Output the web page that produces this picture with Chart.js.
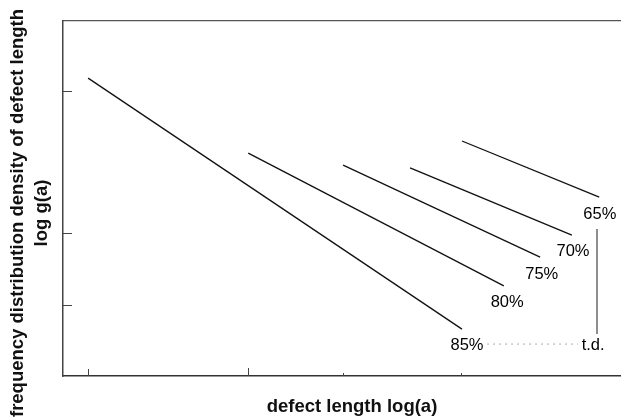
<!DOCTYPE html>
<html><head><meta charset="utf-8">
<script src="https://cdn.jsdelivr.net/npm/chart.js@4/dist/chart.umd.min.js"></script>
<style>html,body{margin:0;padding:0;background:#fff}#wrap{width:621px;height:420px}</style>
</head><body><div id="wrap"><canvas id="c" width="621" height="420"></canvas></div>
<script>
// Data (arbitrary log units)
const seriesNames = ['85%', '80%', '75%', '70%', '65%'];
const startX = [4.5, 33.2, 50.2, 62.2, 71.5];
const startY = [83.9, 62.8, 59.4, 58.6, 66.2];
const endX   = [71.5, 79.0, 85.5, 91.2, 96.1];
const endY   = [13.2, 25.4, 33.5, 39.7, 50.4];
const labelX = [72.4, 79.6, 85.8, 91.4, 96.2];
const labelY = [8.7, 20.6, 28.5, 35.2, 45.6];
const tdText = 't.d.';
const tdLabelX = [95.0];
const tdLabelY = [8.7];
const tdLineX = [95.7, 95.7];
const tdLineY = [41.4, 11.8];
const tdDotX = [76.0, 92.3];
const tdDotY = [9.0, 9.0];
const xTicks = [4.4, 33.1, 50.1, 71.3];
const xTickLen = [7, 8, 3, 3];
const yTicks = [80.3, 40.3, 20.0];
const yTitleLines = ['frequency distribution density of defect length', 'log g(a)'];
const xTitle = 'defect length log(a)';

const FONT = "'Liberation Sans', Arial, Helvetica, sans-serif";

const datasets = seriesNames.map((n, i) => ({
  label: n,
  data: [{x: startX[i], y: startY[i]}, {x: endX[i], y: endY[i]}],
  borderColor: '#111', borderWidth: 1.3, pointRadius: 0, showLine: true, fill: false
}));
datasets.push({
  label: 'td-vertical',
  data: tdLineX.map((x, i) => ({x, y: tdLineY[i]})),
  borderColor: '#444', borderWidth: 1.2, pointRadius: 0, showLine: true, fill: false
});
datasets.push({
  label: 'td-dotted',
  data: tdDotX.map((x, i) => ({x, y: tdDotY[i]})),
  borderColor: '#aaa', borderWidth: 1, borderDash: [2, 4], pointRadius: 0, showLine: true, fill: false
});

const annot = {
  id: 'annot',
  afterDatasetsDraw(chart) {
    const {ctx, scales: {x, y}} = chart;
    ctx.save();
    // inward tick marks
    ctx.strokeStyle = '#444';
    ctx.lineWidth = 1;
    yTicks.forEach(v => {
      const py = Math.round(y.getPixelForValue(v)) + 0.5;
      ctx.beginPath(); ctx.moveTo(x.left, py); ctx.lineTo(x.left + 9, py); ctx.stroke();
    });
    xTicks.forEach((v, i) => {
      const px = Math.round(x.getPixelForValue(v)) + 0.5;
      ctx.beginPath(); ctx.moveTo(px, y.bottom); ctx.lineTo(px, y.bottom - xTickLen[i]); ctx.stroke();
    });
    // labels
    ctx.fillStyle = '#000';
    ctx.font = '16.5px ' + FONT;
    ctx.textAlign = 'center';
    ctx.textBaseline = 'middle';
    seriesNames.forEach((n, i) => {
      ctx.fillText(n, x.getPixelForValue(labelX[i]), y.getPixelForValue(labelY[i]));
    });
    ctx.fillText(tdText, x.getPixelForValue(tdLabelX[0]), y.getPixelForValue(tdLabelY[0]));
    // axis titles
    ctx.font = 'bold 18.5px ' + FONT;
    ctx.fillStyle = '#111';
    ctx.fillText(xTitle, 352, 407);
    ctx.translate(0, 213);
    ctx.rotate(-Math.PI / 2);
    ctx.fillText(yTitleLines[0], 0, 18);
    ctx.fillText(yTitleLines[1], 0, 42);
    ctx.restore();
  }
};

new Chart(document.getElementById('c'), {
  type: 'scatter',
  data: {datasets},
  options: {
    responsive: false,
    animation: false,
    devicePixelRatio: 1,
    layout: {padding: {left: 63, top: 21, right: 0, bottom: 44}},
    plugins: {legend: {display: false}, tooltip: {enabled: false}},
    scales: {
      x: {
        type: 'linear', position: 'bottom', min: 0, max: 100,
        grid: {display: false, drawTicks: false}, ticks: {display: false},
        border: {display: true, color: '#333', width: 1.5},
        title: {display: false}
      },
      xTop: {
        type: 'linear', position: 'top', axis: 'x', min: 0, max: 100,
        grid: {display: false, drawTicks: false}, ticks: {display: false},
        border: {display: true, color: '#555', width: 1.2}
      },
      y: {
        type: 'linear', position: 'left', min: 0, max: 100,
        grid: {display: false, drawTicks: false}, ticks: {display: false},
        border: {display: true, color: '#444', width: 1.5},
        title: {display: false}
      }
    }
  },
  plugins: [annot]
});
</script>
</body></html>
